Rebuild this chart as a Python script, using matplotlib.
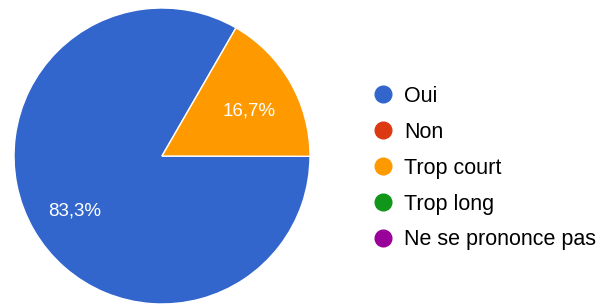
import matplotlib.pyplot as plt
from matplotlib.lines import Line2D

plt.rcParams['font.family'] = ['Liberation Sans', 'DejaVu Sans']

labels = ["Oui", "Non", "Trop court", "Trop long", "Ne se prononce pas"]
values = [83.3, 0, 16.7, 0, 0]
colors = ["#3366cc", "#dc3912", "#ff9900", "#109618", "#990099"]

fig = plt.figure(figsize=(6.08, 3.04), dpi=100)
ax = fig.add_axes([14 / 608, 0 / 304, 296 / 608, 296 / 304])

# only slices with a value are drawn
shown = [(v, c) for v, c in zip(values, colors) if v > 0]
wedges, texts, autotexts = ax.pie(
    [v for v, c in shown],
    colors=[c for v, c in shown],
    startangle=60,
    counterclock=True,
    radius=1,
    autopct=lambda p: f"{p:.1f}%".replace(".", ","),
    pctdistance=0.68,
    wedgeprops=dict(edgecolor="white", linewidth=1),
    textprops=dict(color="white", fontsize=13.5),
)
for t in autotexts:
    x, y = t.get_position()
    t.set_position((x, y - 0.035))
ax.set_xlim(-1, 1)
ax.set_ylim(-1, 1)
ax.set_aspect("equal")

handles = [Line2D([], [], marker="o", linestyle="", markersize=12,
                  markerfacecolor=c, markeredgecolor=c) for c in colors]
fig.legend(handles, labels, loc="upper left", bbox_to_anchor=(374 / 608, 1 - 86 / 304),
           frameon=False, fontsize=15.5, labelspacing=0.69, handletextpad=0.6,
           handlelength=0.8, borderaxespad=0, borderpad=0)

plt.savefig("out.png", dpi=100)
